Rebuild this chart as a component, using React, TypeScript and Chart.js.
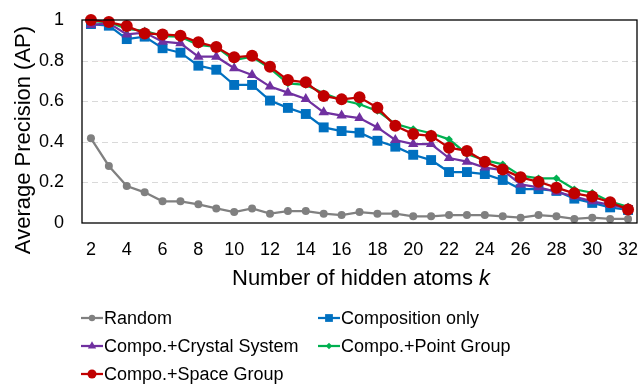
import React, { useEffect, useRef } from "react";
import { Chart, registerables } from "chart.js";

Chart.register(...registerables);

const ks = [2, 3, 4, 5, 6, 7, 8, 9, 10, 11, 12, 13, 14, 15, 16, 17, 18, 19, 20, 21, 22, 23, 24, 25, 26, 27, 28, 29, 30, 31, 32];
const categories = ks.map(String);

const randomAP = [0.417, 0.281, 0.182, 0.151, 0.107, 0.107, 0.092, 0.072, 0.054, 0.072, 0.046, 0.059, 0.059, 0.046, 0.039, 0.054, 0.046, 0.046, 0.033, 0.033, 0.039, 0.039, 0.039, 0.033, 0.026, 0.039, 0.033, 0.02, 0.026, 0.02, 0.02];
const compositionOnly = [0.98, 0.972, 0.906, 0.918, 0.861, 0.839, 0.775, 0.755, 0.68, 0.68, 0.603, 0.567, 0.537, 0.471, 0.453, 0.445, 0.405, 0.376, 0.336, 0.31, 0.251, 0.251, 0.241, 0.212, 0.167, 0.167, 0.158, 0.12, 0.099, 0.077, 0.064];
const crystalSystem = [0.975, 0.985, 0.929, 0.938, 0.893, 0.885, 0.819, 0.819, 0.762, 0.729, 0.672, 0.642, 0.611, 0.545, 0.529, 0.517, 0.471, 0.409, 0.389, 0.389, 0.32, 0.302, 0.273, 0.261, 0.19, 0.176, 0.154, 0.13, 0.107, 0.089, 0.072];
const pointGroup = [0.995, 0.99, 0.956, 0.947, 0.921, 0.918, 0.877, 0.867, 0.803, 0.819, 0.762, 0.688, 0.68, 0.639, 0.606, 0.585, 0.552, 0.488, 0.463, 0.442, 0.412, 0.34, 0.31, 0.289, 0.233, 0.22, 0.22, 0.166, 0.149, 0.105, 0.08];
const spaceGroup = [1.0, 0.99, 0.97, 0.934, 0.929, 0.923, 0.89, 0.867, 0.816, 0.824, 0.77, 0.704, 0.693, 0.626, 0.609, 0.619, 0.568, 0.479, 0.438, 0.429, 0.371, 0.355, 0.302, 0.264, 0.225, 0.203, 0.174, 0.146, 0.13, 0.102, 0.067];

const seriesNames = ["Random", "Composition only", "Compo.+Crystal System", "Compo.+Point Group", "Compo.+Space Group"];
const seriesColors = ["#808080", "#0070c0", "#7030a0", "#00b050", "#c00000"];
const seriesStyles = ["circle", "rect", "triangle", "rectRot", "circle"];
const seriesRadius = [4, 7, 6, 3.8, 6];
const legendRadius = [3.2, 5.5, 4.8, 3.2, 4.5];
const seriesData = [randomAP, compositionOnly, crystalSystem, pointGroup, spaceGroup];

const yTicks = [0, 0.2, 0.4, 0.6, 0.8, 1];

const FONT = "'Liberation Sans', Arial, sans-serif";

function drawMarker(ctx: CanvasRenderingContext2D, style: string, x: number, y: number, r: number, color: string) {
  ctx.save();
  ctx.fillStyle = color;
  ctx.beginPath();
  if (style === "circle") {
    ctx.arc(x, y, r, 0, Math.PI * 2);
  } else if (style === "rect") {
    const s = Math.SQRT1_2 * r;
    ctx.rect(x - s, y - s, 2 * s, 2 * s);
  } else if (style === "triangle") {
    ctx.moveTo(x, y - r);
    ctx.lineTo(x + r * 0.866, y + r * 0.5);
    ctx.lineTo(x - r * 0.866, y + r * 0.5);
    ctx.closePath();
  } else if (style === "rectRot") {
    ctx.moveTo(x, y - r);
    ctx.lineTo(x + r, y);
    ctx.lineTo(x, y + r);
    ctx.lineTo(x - r, y);
    ctx.closePath();
  }
  ctx.fill();
  ctx.restore();
}

const decorPlugin = {
  id: "decor",
  beforeDatasetsDraw(chart: any) {
    const ctx: CanvasRenderingContext2D = chart.ctx;
    const a = chart.chartArea;
    const ys = chart.scales.y;
    ctx.save();
    ctx.strokeStyle = "#d9d9d9";
    ctx.lineWidth = 1;
    ctx.setLineDash([6, 4]);
    yTicks.forEach((v) => {
      if (v === 0 || v === 1) return;
      const y = Math.round(ys.getPixelForValue(v)) + 0.5;
      ctx.beginPath();
      ctx.moveTo(a.left, y);
      ctx.lineTo(a.right, y);
      ctx.stroke();
    });
    ctx.restore();
  },
  afterDraw(chart: any) {
    const ctx: CanvasRenderingContext2D = chart.ctx;
    const a = chart.chartArea;
    ctx.save();
    ctx.strokeStyle = "#000";
    ctx.lineWidth = 1.3;
    ctx.strokeRect(a.left, a.top, a.right - a.left, a.bottom - a.top);

    ctx.fillStyle = "#000";
    ctx.font = `22px ${FONT}`;
    ctx.textAlign = "center";
    ctx.textBaseline = "alphabetic";
    ctx.save();
    ctx.translate(30, 140);
    ctx.rotate(-Math.PI / 2);
    ctx.fillText("Average Precision (AP)", 0, 0);
    ctx.restore();

    const t1 = "Number of hidden atoms ";
    const t2 = "k";
    ctx.font = `22px ${FONT}`;
    const w1 = ctx.measureText(t1).width;
    ctx.font = `italic 22px ${FONT}`;
    const w2 = ctx.measureText(t2).width;
    const cx = 361;
    const startX = cx - (w1 + w2) / 2;
    ctx.textAlign = "left";
    ctx.font = `22px ${FONT}`;
    ctx.fillText(t1, startX, 285);
    ctx.font = `italic 22px ${FONT}`;
    ctx.fillText(t2, startX + w1, 285);

    const cols = [81, 318];
    const rows = [318, 346, 374];
    ctx.font = `18px ${FONT}`;
    ctx.textBaseline = "middle";
    seriesNames.forEach((name, i) => {
      const x0 = cols[i % 2];
      const y0 = rows[Math.floor(i / 2)];
      ctx.strokeStyle = seriesColors[i];
      ctx.lineWidth = 2.25;
      ctx.beginPath();
      ctx.moveTo(x0, y0);
      ctx.lineTo(x0 + 22, y0);
      ctx.stroke();
      drawMarker(ctx, seriesStyles[i], x0 + 11, y0, legendRadius[i], seriesColors[i]);
      ctx.fillStyle = "#000";
      ctx.fillText(name, x0 + 23, y0 + 1);
    });
    ctx.restore();
  },
};

export default function App() {
  const ref = useRef<HTMLCanvasElement | null>(null);
  useEffect(() => {
    if (!ref.current) return;
    const datasets = seriesNames.map((name, i) => ({
      label: name,
      data: seriesData[i],
      borderColor: seriesColors[i],
      backgroundColor: seriesColors[i],
      borderWidth: 2.25,
      pointStyle: seriesStyles[i] as any,
      pointRadius: seriesRadius[i],
      pointBorderWidth: 0,
      pointBackgroundColor: seriesColors[i],
      tension: 0,
      clip: false as any,
      order: seriesNames.length - i,
    }));
    const chart = new Chart(ref.current, {
      type: "line",
      data: { labels: categories, datasets },
      options: {
        responsive: false,
        animation: false,
        devicePixelRatio: 1,
        layout: { autoPadding: false, padding: { top: 20, right: 3, left: 0, bottom: 0 } },
        plugins: { legend: { display: false }, tooltip: { enabled: false } },
        scales: {
          x: {
            type: "category",
            offset: true,
            grid: { display: false, drawTicks: false },
            border: { display: false },
            ticks: {
              autoSkip: false,
              maxRotation: 0,
              padding: 16,
              color: "#000",
              font: { family: FONT, size: 18 },
              callback: (_v: any, idx: number) => (ks[idx] % 2 === 0 ? String(ks[idx]) : ""),
            },
            afterFit: (s: any) => {
              s.height = 162;
              s.paddingLeft = 0;
              s.paddingRight = 0;
            },
          },
          y: {
            min: 0,
            max: 1,
            afterBuildTicks: (s: any) => {
              s.ticks = yTicks.map((v) => ({ value: v }));
            },
            grid: { display: false, drawTicks: false },
            border: { display: false },
            ticks: {
              padding: 18,
              color: "#000",
              font: { family: FONT, size: 18 },
              callback: (v: any) => String(Math.round(v * 10) / 10),
            },
            afterFit: (s: any) => {
              s.width = 82;
              s.paddingTop = 0;
              s.paddingBottom = 0;
            },
          },
        },
      },
      plugins: [decorPlugin],
    });
    return () => chart.destroy();
  }, []);
  return (
    <div style={{ position: "fixed", left: 0, top: 0, width: 640, height: 385, background: "#fff" }}>
      <canvas ref={ref} width={640} height={385} style={{ width: 640, height: 385 }} />
    </div>
  );
}
